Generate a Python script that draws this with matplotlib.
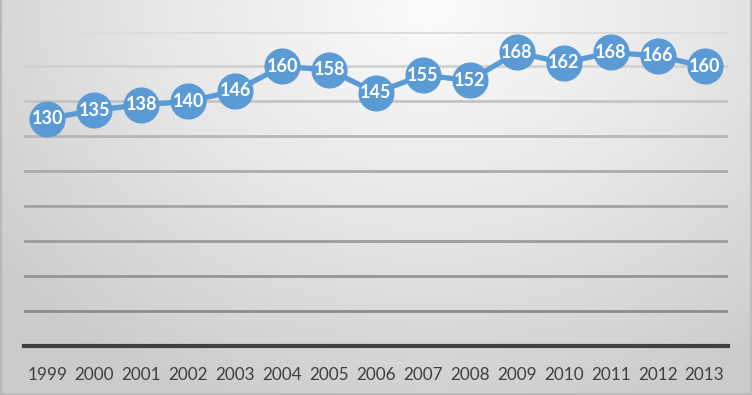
import numpy as np
import matplotlib
matplotlib.use("Agg")
import matplotlib.pyplot as plt
from matplotlib.colors import LinearSegmentedColormap

years = ["1999", "2000", "2001", "2002", "2003", "2004", "2005", "2006",
         "2007", "2008", "2009", "2010", "2011", "2012", "2013"]
values = [130, 135, 138, 140, 146, 160, 158, 145, 155, 152, 168, 162, 168, 166, 160]
y_ticks = [0, 20, 40, 60, 80, 100, 120, 140, 160, 180]

W, H, DPI = 752, 395, 100
fig = plt.figure(figsize=(W / DPI, H / DPI), dpi=DPI)

# background gradient
bg = fig.add_axes([0, 0, 1, 1])
xx, yy = np.meshgrid(np.arange(W), np.arange(H))
d = np.sqrt(((xx - 430) / 560.0) ** 2 + ((yy - 10) / 430.0) ** 2)
d = np.clip(d, 0, 1)
cmap = LinearSegmentedColormap.from_list("bg", ["#fbfbfb", "#e6e6e6", "#cbcbcb"])
bg.imshow(d, cmap=cmap, vmin=0, vmax=1, aspect="auto", extent=[0, W, H, 0])
bg.set_xlim(0, W)
bg.set_ylim(H, 0)
bg.axis("off")
bg.plot([0.5, 0.5], [0, H], color="#b8b8b8", lw=1.5)
bg.plot([W - 1.5, W - 1.5], [0, H], color="#bcbcbc", lw=2)
bg.plot([0, W], [H - 1.5, H - 1.5], color="#bcbcbc", lw=2)

ax = fig.add_axes([24 / W, 1 - 346 / H, (728 - 24) / W, (346 - 31.5) / H])
ax.patch.set_alpha(0)
x = np.arange(len(years))
ax.set_xlim(-0.5, len(years) - 0.5)
ax.set_ylim(0, 180)

grid_colors = ["#dcdcdc", "#d2d2d2", "#c4c4c4", "#b6b6b6", "#ababab",
               "#a3a3a3", "#9c9c9c", "#959595", "#8c8c8c"]
for t, c in zip(y_ticks[1:][::-1], grid_colors):
    ax.axhline(t, color=c, lw=2, zorder=1)

for s in ["top", "right", "left"]:
    ax.spines[s].set_visible(False)
ax.spines["bottom"].set_color("#404040")
ax.spines["bottom"].set_linewidth(3)
ax.set_yticks([])
ax.set_xticks(x)
ax.set_xticklabels(years, fontsize=12.3, color="#404040", family=["Lato", "DejaVu Sans"])
ax.tick_params(axis="x", length=0, pad=15)

ax.plot(x, values, color="#5b9bd5", lw=3.8, marker="o", ms=25,
        markerfacecolor="#5b9bd5", markeredgecolor="#5b9bd5", zorder=3,
        solid_joinstyle="round")
for xi, v in zip(x, values):
    ax.text(xi, v, str(v), ha="center", va="center", color="white",
            fontsize=13, fontweight="bold", family=["Lato", "DejaVu Sans"], zorder=4)

fig.savefig("out.png", dpi=DPI)
